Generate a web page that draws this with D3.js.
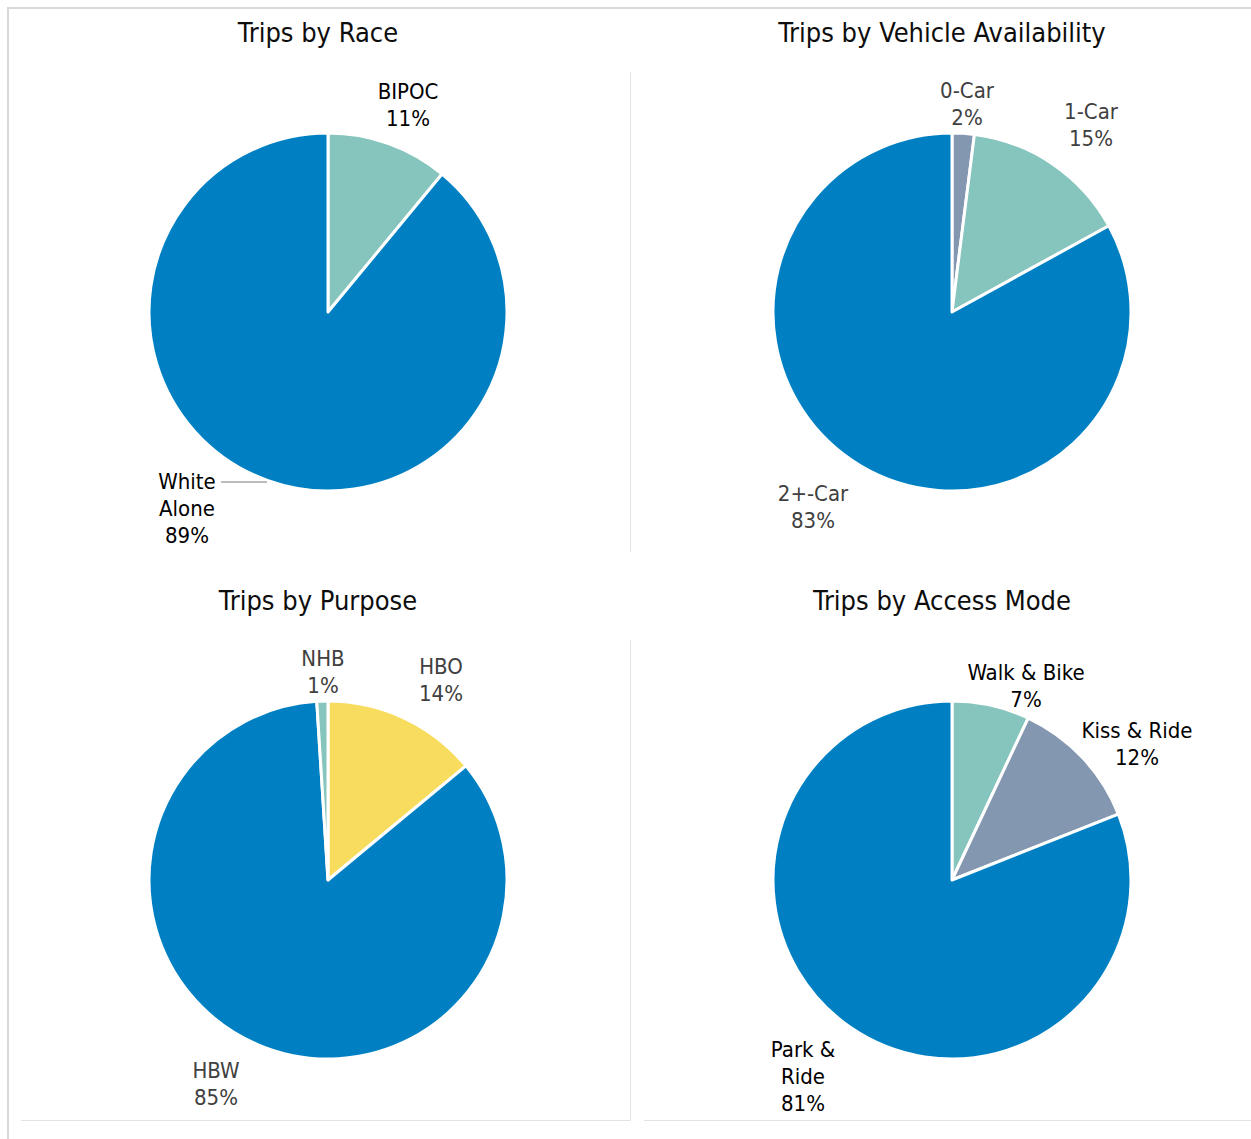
<!DOCTYPE html>
<html>
<head>
<meta charset="utf-8">
<script src="https://cdn.jsdelivr.net/npm/d3@7"></script>
<style>
  html, body { margin: 0; padding: 0; background: #fff; }
  svg { display: block; }
  text { font-family: "Liberation Sans Narrow", "DejaVu Sans Condensed", "Liberation Sans", sans-serif; }
</style>
</head>
<body>
<svg id="chart" width="1251" height="1139"></svg>
<script>
// Shares of trips, in percent, for each breakdown (slices run clockwise from 12 o'clock)
const raceCategories = ["BIPOC", "White Alone"];
const raceValues = [11, 89];

const vehicleCategories = ["0-Car", "1-Car", "2+-Car"];
const vehicleValues = [2, 15, 83];

const purposeCategories = ["HBO", "HBW", "NHB"];
const purposeValues = [14, 85, 1];

const accessCategories = ["Walk & Bike", "Kiss & Ride", "Park & Ride"];
const accessValues = [7, 12, 81];

// Palette
const BLUE = "#0080c3", TEAL = "#86c5bd", SLATE = "#8497b0", YELLOW = "#f7dc5e";

// Panel layout: pie centre, title, colours, label text and first-line position (relative to centre)
const panels = [
  {
    title: "Trips by Race", titleX: 318, titleY: 42,
    cx: 328, cy: 312,
    categories: raceCategories, values: raceValues,
    colors: [TEAL, BLUE], labelColor: "#000",
    labels: [
      { lines: ["BIPOC", "11%"], dx: 80, dy: -221 },
      { lines: ["White", "Alone", "89%"], dx: -141, dy: 169, leader: [221, 267, 482] }
    ]
  },
  {
    title: "Trips by Vehicle Availability", titleX: 942, titleY: 42,
    cx: 952, cy: 312,
    categories: vehicleCategories, values: vehicleValues,
    colors: [SLATE, TEAL, BLUE], labelColor: "#404040",
    labels: [
      { lines: ["0-Car", "2%"], dx: 15, dy: -222 },
      { lines: ["1-Car", "15%"], dx: 139, dy: -201 },
      { lines: ["2+-Car", "83%"], dx: -139, dy: 181 }
    ]
  },
  {
    title: "Trips by Purpose", titleX: 318, titleY: 610,
    cx: 328, cy: 880,
    categories: purposeCategories, values: purposeValues,
    colors: [YELLOW, BLUE, TEAL], labelColor: "#404040",
    labels: [
      { lines: ["HBO", "14%"], dx: 113, dy: -214 },
      { lines: ["HBW", "85%"], dx: -112, dy: 190 },
      { lines: ["NHB", "1%"], dx: -5, dy: -222 }
    ]
  },
  {
    title: "Trips by Access Mode", titleX: 942, titleY: 610,
    cx: 952, cy: 880,
    categories: accessCategories, values: accessValues,
    colors: [TEAL, SLATE, BLUE], labelColor: "#000",
    labels: [
      { lines: ["Walk & Bike", "7%"], dx: 74, dy: -208 },
      { lines: ["Kiss & Ride", "12%"], dx: 185, dy: -150 },
      { lines: ["Park &", "Ride", "81%"], dx: -149, dy: 169 }
    ]
  }
];

const svg = d3.select("#chart");
const R = 179;
const LINE_H = 27.3;

// Frame lines around the chart area
const frame = svg.append("g").attr("fill", "none");
frame.append("path").attr("d", "M8,1139 V8 H1251").attr("stroke", "#d9d9d9").attr("stroke-width", 2);
frame.append("path").attr("d", "M630.5,72 V552").attr("stroke", "#e3e3e3").attr("stroke-width", 1);
frame.append("path").attr("d", "M630.5,640 V1120.5 H21").attr("stroke", "#e3e3e3").attr("stroke-width", 1);
frame.append("path").attr("d", "M644,1120.5 H1251").attr("stroke", "#e3e3e3").attr("stroke-width", 1);

const pie = d3.pie().sort(null).value(d => d);
const arc = d3.arc().innerRadius(0).outerRadius(R);

panels.forEach(p => {
  const g = svg.append("g");

  g.append("text")
    .attr("x", p.titleX).attr("y", p.titleY)
    .attr("text-anchor", "middle")
    .attr("font-size", 27)
    .attr("fill", "#0d0d0d")
    .text(p.title);

  const color = d3.scaleOrdinal().domain(p.categories).range(p.colors);

  const pg = g.append("g").attr("transform", `translate(${p.cx},${p.cy})`);
  pg.selectAll("path")
    .data(pie(p.values))
    .join("path")
    .attr("d", arc)
    .attr("fill", (d, i) => color(p.categories[i]))
    .attr("stroke", "#fff")
    .attr("stroke-width", 3)
    .attr("stroke-linejoin", "round");

  p.labels.forEach(l => {
    if (l.leader) {
      g.append("line")
        .attr("x1", l.leader[0]).attr("x2", l.leader[1])
        .attr("y1", l.leader[2]).attr("y2", l.leader[2])
        .attr("stroke", "#a6a6a6").attr("stroke-width", 1.5);
    }
    const t = pg.append("text")
      .attr("text-anchor", "middle")
      .attr("font-size", 22)
      .attr("fill", p.labelColor);
    l.lines.forEach((s, k) => {
      t.append("tspan")
        .attr("x", l.dx)
        .attr("y", l.dy + k * LINE_H)
        .attr("dy", "0.35em")
        .text(s);
    });
  });
});
</script>
</body>
</html>
